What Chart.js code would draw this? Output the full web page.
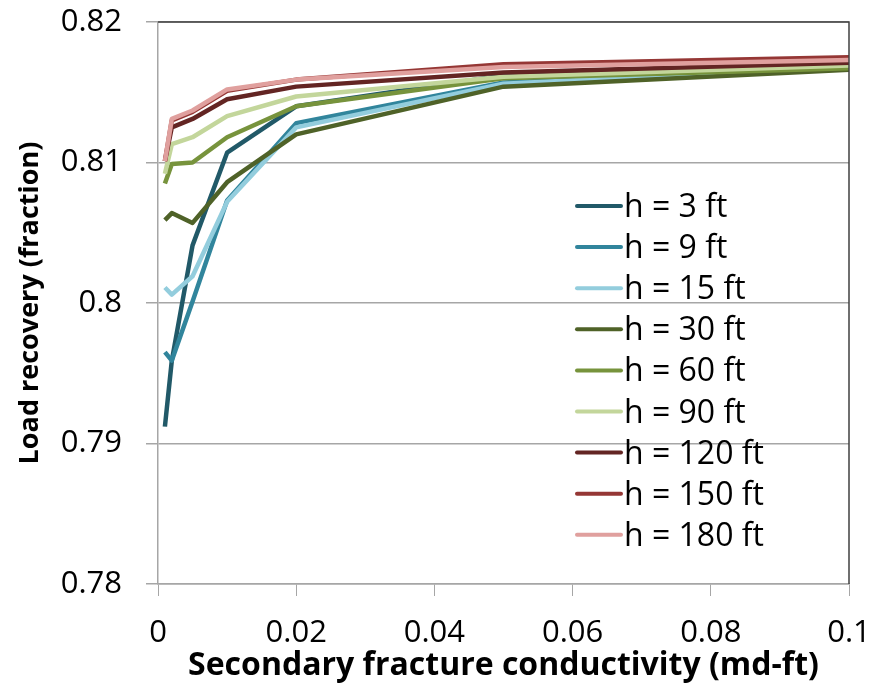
<!DOCTYPE html>
<html>
<head>
<meta charset="utf-8">
<script src="https://cdn.jsdelivr.net/npm/chart.js@4.4.0/dist/chart.umd.min.js"></script>
<style>
  body { margin: 0; background: #fff; }
  #wrap { width: 873px; height: 685px; }
</style>
</head>
<body>
<div id="wrap"><canvas id="recoveryChart" width="873" height="685"></canvas></div>
<script>
// Conductivity values (md-ft) shared by every series
const conductivity = [0.001, 0.002, 0.005, 0.01, 0.02, 0.05, 0.1];

// Load recovery, one array per fracture height
const h3 = [0.7912, 0.7959, 0.8041, 0.8107, 0.8140, 0.8162, 0.8168];
const h9 = [0.7965, 0.7959, 0.8001, 0.8073, 0.8128, 0.8157, 0.8168];
const h15 = [0.8011, 0.8006, 0.8019, 0.8072, 0.8125, 0.8156, 0.8168];
const h30 = [0.8059, 0.8064, 0.8057, 0.8086, 0.8120, 0.8154, 0.8166];
const h60 = [0.8085, 0.8099, 0.8100, 0.8118, 0.8140, 0.8160, 0.8167];
const h90 = [0.8092, 0.8113, 0.8118, 0.8133, 0.8147, 0.8161, 0.8169];
const h120 = [0.8101, 0.8125, 0.8131, 0.8145, 0.8154, 0.8164, 0.8171];
const h150 = [0.8101, 0.8130, 0.8136, 0.8151, 0.8159, 0.8170, 0.8175];
const h180 = [0.8101, 0.8131, 0.8137, 0.8152, 0.8159, 0.8168, 0.8173];

const seriesLabels = ['h = 3 ft', 'h = 9 ft', 'h = 15 ft', 'h = 30 ft', 'h = 60 ft',
                      'h = 90 ft', 'h = 120 ft', 'h = 150 ft', 'h = 180 ft'];
const seriesValues = [h3, h9, h15, h30, h60, h90, h120, h150, h180];
const seriesColors = ['#215968', '#31859c', '#93cddd', '#4f6228', '#77933c',
                      '#c3d69b', '#632523', '#953735', '#e0a09e'];

// Tick values
const xTicks = [0, 0.02, 0.04, 0.06, 0.08, 0.1];
const yTicks = [0.78, 0.79, 0.8, 0.81, 0.82];

const FONT = "'Open Sans', sans-serif";

// Legend drawn inside the plot area, like the original
const insideLegend = {
    id: 'insideLegend',
    afterDatasetsDraw(chart) {
        const ctx = chart.ctx;
        const area = chart.chartArea;
        const x0 = area.left + 419;
        const y0 = area.top + 184;
        const step = 41.1;
        ctx.save();
        ctx.font = '32px ' + FONT;
        ctx.textBaseline = 'alphabetic';
        ctx.textAlign = 'left';
        chart.data.datasets.forEach((ds, i) => {
            const y = y0 + i * step;
            ctx.strokeStyle = ds.borderColor;
            ctx.lineWidth = 4;
            ctx.lineCap = 'round';
            ctx.beginPath();
            ctx.moveTo(x0, y);
            ctx.lineTo(x0 + 44, y);
            ctx.stroke();
            ctx.fillStyle = '#000';
            ctx.fillText(ds.label, x0 + 47, y + 11);
        });
        ctx.restore();
    }
};

// Dark frame on top and right of the plot area
const plotFrame = {
    id: 'plotFrame',
    afterDraw(chart) {
        const ctx = chart.ctx;
        const a = chart.chartArea;
        ctx.save();
        ctx.strokeStyle = '#404040';
        ctx.lineWidth = 1.5;
        ctx.beginPath();
        ctx.moveTo(a.left, a.top);
        ctx.lineTo(a.right, a.top);
        ctx.lineTo(a.right, a.bottom);
        ctx.stroke();
        ctx.restore();
    }
};

function fmt(v) {
    return String(Number(v.toFixed(3)));
}

const ctx = document.getElementById('recoveryChart').getContext('2d');
const chart = new Chart(ctx, {
    type: 'line',
    data: {
        datasets: seriesLabels.map((label, i) => ({
            label: label,
            data: conductivity.map((c, j) => ({ x: c, y: seriesValues[i][j] })),
            borderColor: seriesColors[i],
            backgroundColor: seriesColors[i],
            borderWidth: 4.5,
            pointRadius: 0,
            tension: 0,
            fill: false,
            borderJoinStyle: 'round',
            // later series are drawn on top, as in the original
            order: seriesLabels.length - i
        }))
    },
    options: {
        responsive: false,
        animation: false,
        layout: {
            padding: { top: 22, right: 24, left: 0, bottom: 0 }
        },
        plugins: {
            legend: { display: false },
            tooltip: { enabled: false }
        },
        scales: {
            x: {
                type: 'linear',
                min: 0,
                max: 0.1,
                afterBuildTicks: function(scale) {
                    scale.ticks = xTicks.map(v => ({ value: v }));
                },
                afterFit: function(scale) {
                    scale.height = 101;
                    scale.paddingLeft = 0;
                    scale.paddingRight = 0;
                },
                grid: {
                    drawOnChartArea: false,
                    drawTicks: true,
                    tickLength: 12,
                    color: '#a6a6a6',
                    lineWidth: 1
                },
                border: { color: '#a6a6a6', width: 1.5 },
                ticks: {
                    padding: 19,
                    maxRotation: 0,
                    font: { family: FONT, size: 31 },
                    color: '#000',
                    callback: function(v) { return fmt(v); }
                },
                title: {
                    display: true,
                    text: 'Secondary fracture conductivity (md-ft)',
                    font: { family: FONT, size: 32, weight: 'bold' },
                    color: '#000',
                    padding: { top: 2, bottom: 0 }
                }
            },
            y: {
                type: 'linear',
                min: 0.78,
                max: 0.82,
                afterBuildTicks: function(scale) {
                    scale.ticks = yTicks.map(v => ({ value: v }));
                },
                afterFit: function(scale) {
                    scale.width = 158;
                    scale.paddingTop = 0;
                    scale.paddingBottom = 0;
                },
                grid: {
                    drawTicks: true,
                    tickLength: 12,
                    color: '#a6a6a6',
                    lineWidth: 1.5
                },
                border: { color: '#a6a6a6', width: 1.5 },
                ticks: {
                    padding: 24,
                    font: { family: FONT, size: 31 },
                    color: '#000',
                    callback: function(v) { return fmt(v); }
                },
                title: {
                    display: true,
                    text: 'Load recovery (fraction)',
                    font: { family: FONT, size: 27, weight: 'bold' },
                    color: '#000',
                    padding: { top: 14, bottom: 0 }
                }
            }
        }
    },
    plugins: [insideLegend, plotFrame]
});
</script>
</body>
</html>
